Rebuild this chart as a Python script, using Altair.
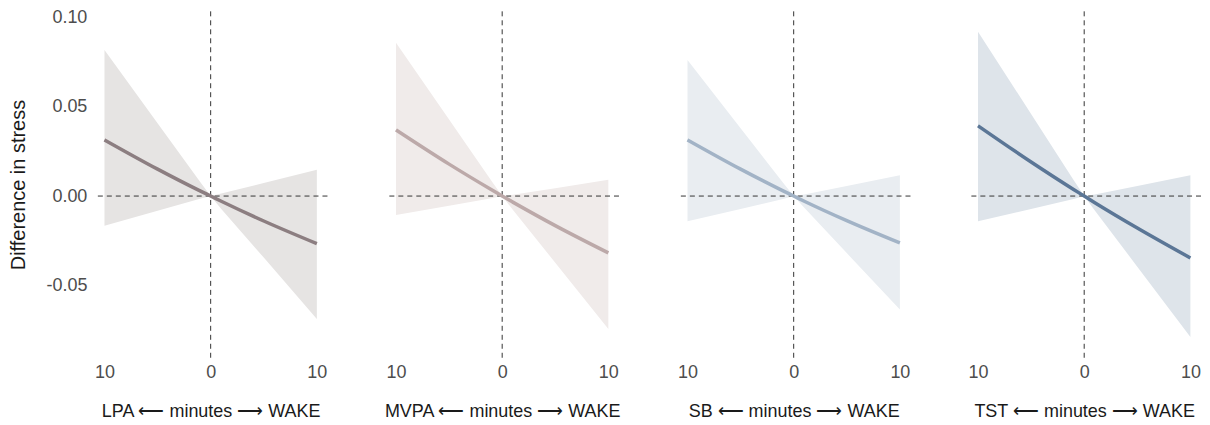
import altair as alt
import pandas as pd

minutes = [-10, -5, -1, 0, 1, 5, 10]
panels = ["LPA", "MVPA", "SB", "TST"]

est_LPA = [0.0315, 0.0151, 0.0029, 0.0, -0.0029, -0.0140, -0.0267]
lo_LPA = [-0.0166, -0.0082, -0.0015, 0.0, -0.0073, -0.0345, -0.0689]
hi_LPA = [0.0819, 0.0408, 0.0080, 0.0, 0.0014, 0.0073, 0.0147]

est_MVPA = [0.0371, 0.0179, 0.0035, 0.0, -0.0034, -0.0166, -0.0319]
lo_MVPA = [-0.0106, -0.0054, -0.0013, 0.0, -0.0077, -0.0374, -0.0745]
hi_MVPA = [0.0860, 0.0429, 0.0084, 0.0, 0.0007, 0.0044, 0.0091]

est_SB = [0.0315, 0.0151, 0.0029, 0.0, -0.0029, -0.0138, -0.0263]
lo_SB = [-0.0142, -0.0073, -0.0017, 0.0, -0.0066, -0.0320, -0.0637]
hi_SB = [0.0763, 0.0380, 0.0074, 0.0, 0.0009, 0.0057, 0.0116]

est_TST = [0.0394, 0.0191, 0.0037, 0.0, -0.0037, -0.0179, -0.0347]
lo_TST = [-0.0142, -0.0073, -0.0017, 0.0, -0.0081, -0.0396, -0.0790]
hi_TST = [0.0922, 0.0460, 0.0090, 0.0, 0.0009, 0.0057, 0.0116]

est = {"LPA": est_LPA, "MVPA": est_MVPA, "SB": est_SB, "TST": est_TST}
lower = {"LPA": lo_LPA, "MVPA": lo_MVPA, "SB": lo_SB, "TST": lo_TST}
upper = {"LPA": hi_LPA, "MVPA": hi_MVPA, "SB": hi_SB, "TST": hi_TST}

line_colors = ["#8c7e81", "#bca9a9", "#a2b3c6", "#5b7696"]
fill_colors = ["#e6e4e3", "#f0ebea", "#e9edf1", "#dee4ea"]

y_ticks = [-0.05, 0.0, 0.05, 0.10]
x_ticks = [-10, 0, 10]

FONT = "Liberation Sans"
Y_DOMAIN = [-0.0907, 0.1036]
X_DOMAIN = [-11, 11]
W = 234
H = 347


def make_panel(i, name):
    df = pd.DataFrame({"minutes": minutes, "est": est[name],
                       "lo": lower[name], "hi": upper[name]})
    xs = alt.Scale(domain=X_DOMAIN, nice=False, zero=False)
    ys = alt.Scale(domain=Y_DOMAIN, nice=False, zero=False)
    xtitle = f"{name} \u27f5 minutes \u27f6 WAKE"
    xaxis = alt.Axis(values=x_ticks, labelExpr="abs(datum.value)", title=xtitle,
                     domain=False, ticks=False, grid=False,
                     labelFont=FONT, labelFontSize=18, labelColor="#4d4d4d",
                     labelPadding=6, titleFont=FONT, titleFontSize=18,
                     titleFontWeight="normal", titleColor="#1a1a1a", titlePadding=21)
    if i == 0:
        yaxis = alt.Axis(values=y_ticks,
                         labelExpr="datum.value < 0 ? '-' + format(-datum.value, '.2f') : format(datum.value, '.2f')",
                         title="Difference in stress", domain=False, ticks=False, grid=False,
                         labelFont=FONT, labelFontSize=18, labelColor="#4d4d4d",
                         labelPadding=7, titleFont=FONT, titleFontSize=20,
                         titleFontWeight="normal", titleColor="#1a1a1a", titlePadding=17)
    else:
        yaxis = None
    band = alt.Chart(df).mark_area(color=fill_colors[i], opacity=1).encode(
        x=alt.X("minutes:Q", scale=xs, axis=xaxis),
        y=alt.Y("lo:Q", scale=ys, axis=yaxis),
        y2="hi:Q",
    )
    hrule = alt.Chart(pd.DataFrame({"v": [0.0]})).mark_rule(
        color="#333333", strokeDash=[5, 4], strokeWidth=1).encode(y=alt.Y("v:Q", scale=ys, axis=yaxis))
    vrule = alt.Chart(pd.DataFrame({"v": [0.0]})).mark_rule(
        color="#333333", strokeDash=[5, 4], strokeWidth=1).encode(x=alt.X("v:Q", scale=xs, axis=xaxis))
    line = alt.Chart(df).mark_line(color=line_colors[i], strokeWidth=3.5,
                                   interpolate="monotone").encode(
        x=alt.X("minutes:Q", scale=xs, axis=xaxis),
        y=alt.Y("est:Q", scale=ys, axis=yaxis),
    )
    return alt.layer(band, hrule, vrule, line).properties(width=W, height=H)


chart = alt.hconcat(*[make_panel(i, n) for i, n in enumerate(panels)], spacing=55).properties(
    padding={"left": 0, "top": 0, "right": 0, "bottom": 0}
).configure_view(stroke=None)

chart.save("out.html", embed_options={"renderer": "svg", "actions": False})
